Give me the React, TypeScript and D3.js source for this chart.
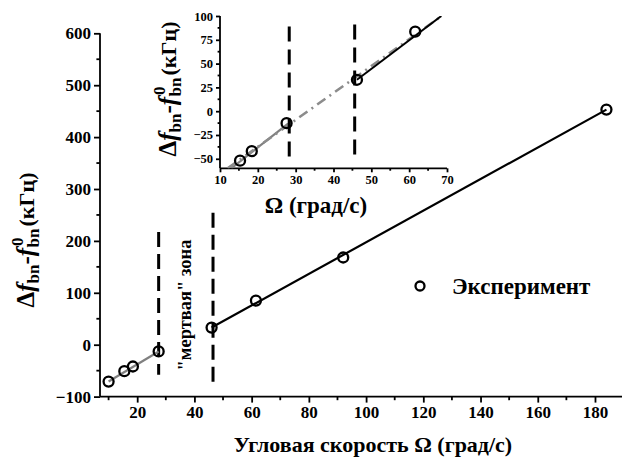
import React, { useEffect, useRef } from "react";
import * as d3 from "d3";

// main plot data (Ω, град/с ; Δf, кГц)
const lowX = [10, 15.5, 18.5, 27.5];
const lowY = [-71, -51, -42, -13];
const highX = [46, 61.5, 92, 184];
const highY = [33, 85, 168, 453];
// inset data
const insetX = [15.3, 18.4, 27.6, 46.2, 61.6];
const insetY = [-52, -42, -12.6, 33, 83.5];
// fitted lines
const insetLowLine = [[13, -60], [28, -13]];
const insetFitLine = [[12, -60], [68.6, 100]];
const insetHighLine = [[46.2, 33], [68.5, 100]];
// "dead zone" borders: x, top, bottom
const mainBorders = [[27.5, 217, -58], [46.5, 254, -78]];
const insetBorders = [[28.3, 89, -53], [45.6, 91, -49]];

const mainXTicks = [20, 40, 60, 80, 100, 120, 140, 160, 180];
const mainXMinor = [10, 30, 50, 70, 90, 110, 130, 150, 170, 190];
const mainYTicks = [-100, 0, 100, 200, 300, 400, 500, 600];
const mainYMinor = [-50, 50, 150, 250, 350, 450, 550];
const insetXTicks = [10, 20, 30, 40, 50, 60, 70];
const insetXMinor = [15, 25, 35, 45, 55, 65];
const insetYTicks = [-50, -25, 0, 25, 50, 75, 100];
const insetYMinor = [-37.5, -12.5, 12.5, 37.5, 62.5, 87.5];

const FONT = "'Times New Roman', Tinos, 'Liberation Serif', 'DejaVu Serif', 'Noto Serif', serif";

const App = () => {
  const ref = useRef(null);

  useEffect(() => {
    const svg = d3.select(ref.current);
    svg.selectAll("*").remove();

    const drawAxes = (x, y, xt, xm, yt, ym, fs, tl) => {
      const g = svg.append("g");
      const [x0, x1] = x.range();
      const [y0, y1] = y.range();
      const ax = g.append("g").attr("transform", `translate(0,${y0})`);
      ax.call(d3.axisBottom(x).tickValues(xt).tickSize(tl).tickPadding(3).tickFormat(d3.format("d")));
      ax.append("g").selectAll("line").data(xm.filter((v) => v >= x.domain()[0] && v <= x.domain()[1]))
        .enter().append("line")
        .attr("x1", (d) => x(d)).attr("x2", (d) => x(d)).attr("y1", 0).attr("y2", tl * 0.6);
      const ay = g.append("g").attr("transform", `translate(${x0},0)`);
      ay.call(d3.axisLeft(y).tickValues(yt).tickSize(tl).tickPadding(3).tickFormat(d3.format("d")));
      ay.append("g").selectAll("line").data(ym).enter().append("line")
        .attr("y1", (d) => y(d)).attr("y2", (d) => y(d)).attr("x1", 0).attr("x2", -tl * 0.6);
      g.selectAll(".domain").remove();
      g.append("line").attr("x1", x0).attr("x2", x1).attr("y1", y0).attr("y2", y0);
      g.append("line").attr("x1", x0).attr("x2", x0).attr("y1", y0).attr("y2", y1);
      g.selectAll("line").attr("stroke", "#000").attr("stroke-width", 1.8);
      g.selectAll("g").attr("font-family", null);
      g.selectAll("text").style("font-family", FONT).style("font-weight", "bold")
        .style("font-size", fs + "px").attr("fill", "#000");
      return g;
    };

    // ---------- main plot ----------
    const x = d3.scaleLinear().domain([7, 190]).range([100, 623.6]);
    const y = d3.scaleLinear().domain([-100, 600]).range([396.6, 33.3]);
    drawAxes(x, y, mainXTicks, mainXMinor, mainYTicks, mainYMinor, 17, 6);

    const line = (sx, sy) => d3.line().x((d) => sx(d[0])).y((d) => sy(d[1]));

    mainBorders.forEach((b) => {
      svg.append("line").attr("x1", x(b[0])).attr("x2", x(b[0])).attr("y1", y(b[1])).attr("y2", y(b[2]))
        .attr("stroke", "#000").attr("stroke-width", 3).attr("stroke-dasharray", "15 7");
    });

    svg.append("path").attr("d", line(x, y)([[lowX[0], lowY[0]], [lowX[3], lowY[3]]]))
      .attr("stroke", "#808080").attr("stroke-width", 2.2).attr("fill", "none");
    svg.append("path").attr("d", line(x, y)([[highX[0], highY[0]], [highX[3], highY[3]]]))
      .attr("stroke", "#000").attr("stroke-width", 2.2).attr("fill", "none");

    const pts = lowX.map((v, i) => [v, lowY[i]]).concat(highX.map((v, i) => [v, highY[i]]));
    svg.append("g").selectAll("circle").data(pts).enter().append("circle")
      .attr("cx", (d) => x(d[0])).attr("cy", (d) => y(d[1])).attr("r", 5)
      .attr("fill", "none").attr("stroke", "#000").attr("stroke-width", 2.3);

    // ---------- inset ----------
    const ix = d3.scaleLinear().domain([10, 70]).range([220, 447]);
    const iy = d3.scaleLinear().domain([-60, 100]).range([168.3, 16]);
    drawAxes(ix, iy, insetXTicks, insetXMinor, insetYTicks, insetYMinor, 12.5, 4);

    svg.append("clipPath").attr("id", "inclip").append("rect")
      .attr("x", 220).attr("y", 16).attr("width", 227).attr("height", 152.3);
    const ig = svg.append("g").attr("clip-path", "url(#inclip)");

    insetBorders.forEach((b) => {
      svg.append("line").attr("x1", ix(b[0])).attr("x2", ix(b[0])).attr("y1", iy(b[1])).attr("y2", iy(b[2]))
        .attr("stroke", "#000").attr("stroke-width", 3).attr("stroke-dasharray", "15 8");
    });
    ig.append("path").attr("d", line(ix, iy)(insetLowLine))
      .attr("stroke", "#808080").attr("stroke-width", 2.2).attr("fill", "none");
    ig.append("path").attr("d", line(ix, iy)(insetFitLine))
      .attr("stroke", "#8c8c8c").attr("stroke-width", 2.6).attr("fill", "none")
      .attr("stroke-dasharray", "10 5 2 5");
    ig.append("path").attr("d", line(ix, iy)(insetHighLine))
      .attr("stroke", "#000").attr("stroke-width", 2).attr("fill", "none");
    svg.append("g").selectAll("circle").data(insetX.map((v, i) => [v, insetY[i]])).enter().append("circle")
      .attr("cx", (d) => ix(d[0])).attr("cy", (d) => iy(d[1])).attr("r", 5)
      .attr("fill", "none").attr("stroke", "#000").attr("stroke-width", 2.3);

    // ---------- texts ----------
    const txt = (px, py, s, size, rot) => {
      const t = svg.append("text").style("font-family", FONT).style("font-weight", "bold")
        .style("font-size", size + "px").attr("fill", "#000").attr("text-anchor", "middle")
        .attr("transform", `translate(${px},${py})${rot ? " rotate(-90)" : ""}`);
      if (s) t.text(s);
      return t;
    };

    txt(373, 452, "Угловая скорость Ω (град/с)", 22, false);
    txt(316, 213, "Ω (град/с)", 23, false);
    txt(191, 305, "\"мертвая\" зона", 18.5, true);

    const yTitle = (px, py) => {
      const t = txt(px, py, null, 25, true);
      t.append("tspan").text("Δ");
      t.append("tspan").style("font-style", "italic").text("f");
      t.append("tspan").style("font-size", "17px").attr("dy", 5).text("bn");
      t.append("tspan").attr("dy", -5).text("-");
      t.append("tspan").style("font-style", "italic").text("f");
      t.append("tspan").style("font-size", "17px").attr("dy", -11).attr("dx", 2).text("0");
      t.append("tspan").style("font-size", "17px").attr("dy", 16).attr("dx", -10).text("bn");
      t.append("tspan").style("font-size", "22px").attr("dy", -5).attr("dx", 2).text("(кГц)");
    };
    yTitle(34, 240);
    yTitle(176, 89);

    // legend
    svg.append("circle").attr("cx", 420).attr("cy", 286).attr("r", 4.5)
      .attr("fill", "none").attr("stroke", "#000").attr("stroke-width", 2.3);
    txt(452, 294, "Эксперимент", 23, false).attr("text-anchor", "start");
  }, []);

  return (
    <svg
      ref={ref}
      width={622}
      height={457}
      style={{ position: "absolute", left: 0, top: 0, background: "#fff" }}
    />
  );
};

export default App;
